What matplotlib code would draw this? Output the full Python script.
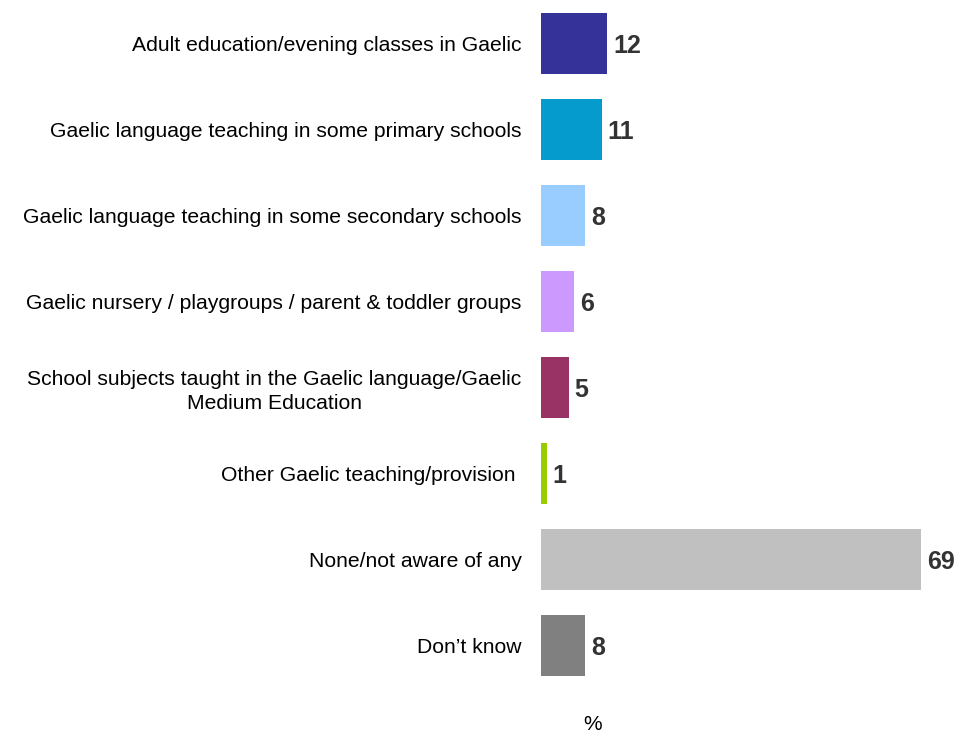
import matplotlib.pyplot as plt

plt.rcParams['font.family'] = ['Liberation Sans', 'DejaVu Sans']

# survey answers, top to bottom
categories = ['Adult education/evening classes in Gaelic',
              'Gaelic language teaching in some primary schools',
              'Gaelic language teaching in some secondary schools',
              'Gaelic nursery / playgroups / parent & toddler groups',
              'School subjects taught in the Gaelic language/Gaelic\nMedium Education',
              'Other Gaelic teaching/provision ',
              'None/not aware of any',
              'Don\u2019t know']
values = [12, 11, 8, 6, 5, 1, 69, 8]
colors = ['#353399', '#059BCD', '#99CCFF', '#CC99FF',
          '#993366', '#99CC00', '#C0C0C0', '#808080']

fig = plt.figure(figsize=(9.6, 7.33), dpi=100)
ax = fig.add_axes([541 / 960, 0.0606, 419 / 960, 0.939])

pos = list(range(len(values)))
ax.barh(pos, values, height=0.71, color=colors)
ax.set_ylim(len(values) - 0.5, -0.5)
ax.set_xlim(0, 419 / 5.5)

for p, v in zip(pos, values):
    ax.annotate(str(v), (v, p), xytext=(4.5, 0), textcoords='offset points',
                va='center_baseline', ha='left', fontsize=18,
                fontweight='bold', color='#333333')

ax.set_yticks(pos)
ax.set_yticklabels(categories, fontsize=15.2, multialignment='center',
                   linespacing=1.3)
ax.tick_params(axis='y', length=0, pad=14)
ax.set_xticks([])
for s in ax.spines.values():
    s.set_visible(False)

fig.text(593 / 960, 1 - 725 / 733, '%', ha='center', va='center', fontsize=15)

fig.savefig('out.png', dpi=100)
